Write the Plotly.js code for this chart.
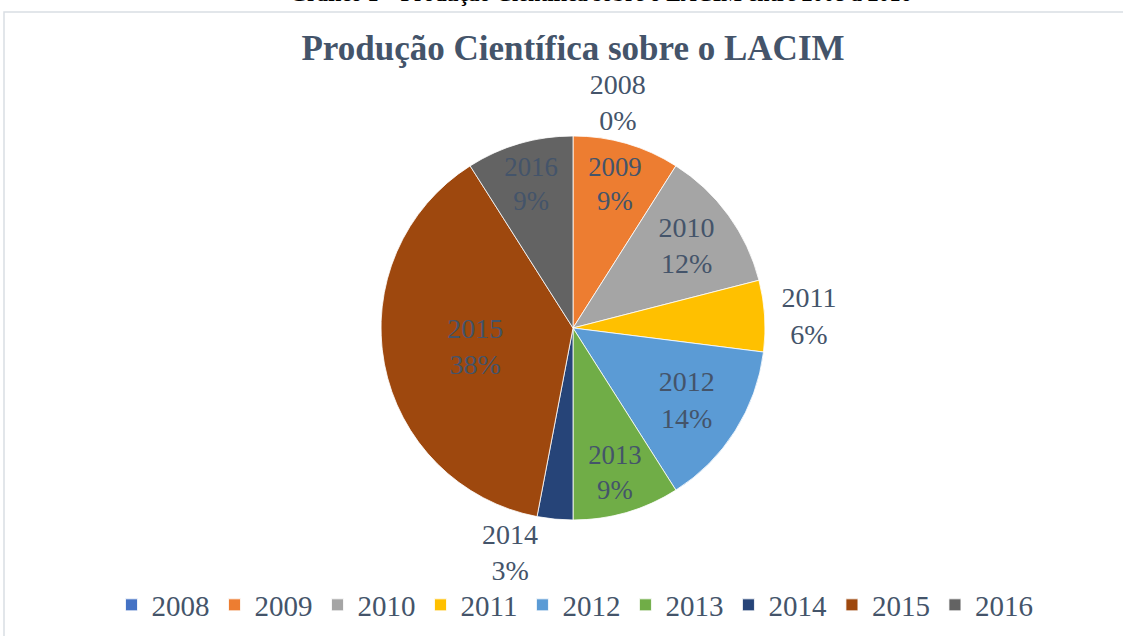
<!DOCTYPE html>
<html>
<head>
<meta charset="utf-8">
<script src="https://cdn.plot.ly/plotly-3.0.1.min.js"></script>
<style>html,body{margin:0;padding:0;background:#fff;}#chart{width:1123px;height:636px;}</style>
</head>
<body>
<div id="chart"></div>
<script>
const years = ['2008','2009','2010','2011','2012','2013','2014','2015','2016'];
const shares = [0, 9, 12, 6, 14, 9, 3, 38, 9];
const colors = ['#4472C4','#ED7D31','#A5A5A5','#FFC000','#5B9BD5','#70AD47','#264478','#9E480E','#636363'];
const labelPositions = ['outside','inside','inside','outside','inside','inside','outside','inside','inside'];

const serif = 'Times New Roman, Liberation Serif, serif';
const textColor = '#44546A';

const trace = {
  type: 'pie',
  labels: years,
  values: shares,
  sort: false,
  direction: 'clockwise',
  rotation: 0,
  marker: {colors: colors, line: {color: '#ffffff', width: 0.8}},
  texttemplate: '%{label}<br>%{percent:.0%}',
  textposition: labelPositions,
  insidetextorientation: 'horizontal',
  textfont: {family: serif, size: 28, color: textColor},
  insidetextfont: {family: serif, size: 28, color: textColor},
  outsidetextfont: {family: serif, size: 28, color: textColor},
  hoverinfo: 'label+percent',
  domain: {x: [381/1123, 765/1123], y: [1 - 520/636, 1 - 136/636]},
  automargin: false
};

const layout = {
  width: 1123,
  height: 636,
  margin: {l: 0, r: 0, t: 0, b: 0},
  paper_bgcolor: '#ffffff',
  showlegend: true,
  title: {
    text: 'Produção Científica sobre o LACIM',
    font: {family: serif, size: 35, color: textColor, weight: 'bold'},
    x: 573/1123, xanchor: 'center',
    y: 1 - 48/636, yanchor: 'middle'
  },
  legend: {
    orientation: 'h',
    x: 575/1123, xanchor: 'center',
    y: 1 - 605/636, yanchor: 'middle',
    font: {family: serif, size: 29, color: textColor},
    traceorder: 'normal',
    bgcolor: 'rgba(0,0,0,0)'
  },
  shapes: [{
    type: 'rect', xref: 'paper', yref: 'paper',
    x0: 4/1123, x1: 1.02, y0: -0.02, y1: 1 - 12/636,
    line: {color: '#D9DEE4', width: 1.5}, fillcolor: 'rgba(0,0,0,0)', layer: 'below'
  }],
  annotations: [{
    text: 'Gráfico 1 – Produção Científica sobre o LACIM entre 2008 a 2016',
    xref: 'paper', yref: 'paper', x: 600/1123, y: 1 + 6/636,
    xanchor: 'center', yanchor: 'middle', showarrow: false,
    font: {family: serif, size: 22, color: '#000000', weight: 'bold'}
  }]
};

Plotly.newPlot('chart', [trace], layout, {displayModeBar: false, staticPlot: true});
</script>
</body>
</html>
